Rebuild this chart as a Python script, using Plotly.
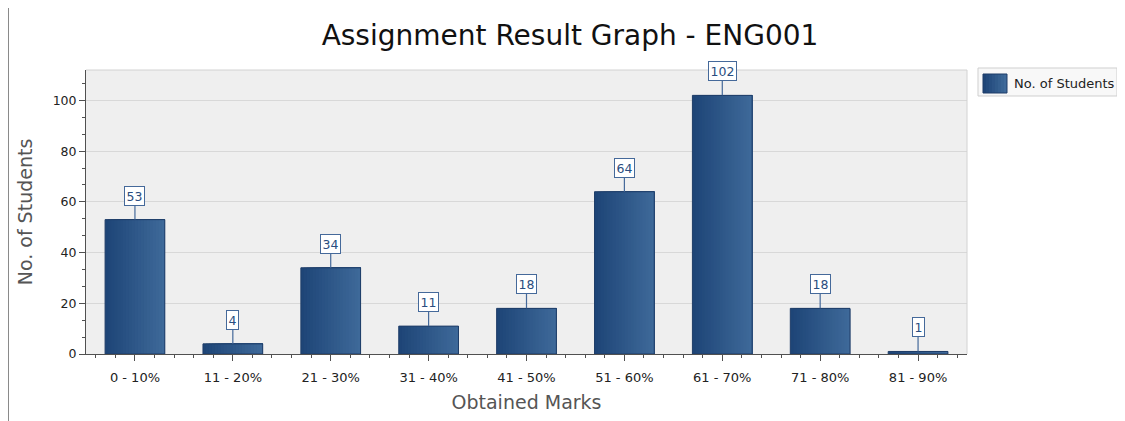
import plotly.graph_objects as go

categories = ["0 - 10%", "11 - 20%", "21 - 30%", "31 - 40%", "41 - 50%",
              "51 - 60%", "61 - 70%", "71 - 80%", "81 - 90%"]
students = [53, 4, 34, 11, 18, 64, 102, 18, 1]
series_name = "No. of Students"
title_text = "Assignment Result Graph - ENG001"

xpos = list(range(len(categories)))
BAR_W = 0.61
N_STRIPS = 20
c0 = (0x1e, 0x45, 0x77)
c1 = (0x3e, 0x69, 0x99)


def mix(t):
    return "rgb(%d,%d,%d)" % tuple(round(a + (b - a) * t) for a, b in zip(c0, c1))


fig = go.Figure()
# gradient fill: overlapping layers, each from its start to the right edge of the bar
for i in range(N_STRIPS):
    start = -BAR_W / 2 + i * BAR_W / N_STRIPS
    fig.add_trace(go.Bar(
        x=xpos, y=students, width=BAR_W / 2 - start,
        offset=start,
        marker=dict(color=mix(i / (N_STRIPS - 1)), line=dict(width=0)),
        showlegend=False, hoverinfo="skip",
    ))
# outline
fig.add_trace(go.Bar(
    x=xpos, y=students, name=series_name, width=BAR_W,
    marker=dict(color="rgba(0,0,0,0)", line=dict(color="#1f3d68", width=1)),
    showlegend=False,
))

for xp, v in zip(xpos, students):
    fig.add_annotation(
        x=xp, y=v, text=str(v), showarrow=True, arrowhead=0, arrowwidth=1.2,
        arrowcolor="#45699a", ax=0, ay=-24,
        font=dict(family="DejaVu Sans", size=12.5, color="#2a4d80"),
        bgcolor="white", bordercolor="#45699a", borderwidth=1, borderpad=1.5,
    )

PL, PR, PT, PB = 78, 959, 62, 346  # plot area in figure pixels
def px(x):
    return (x - PL) / (PR - PL)
def py(y):
    return (PB - y) / (PB - PT)

# left panel border line
fig.add_shape(type="line", xref="paper", yref="paper",
              x0=px(0.5), x1=px(0.5), y0=py(-10), y1=py(420),
              line=dict(color="#8a8a8a", width=1))
# light top/right frame
fig.add_shape(type="line", xref="paper", yref="paper", x0=0, x1=1, y0=1, y1=1,
              line=dict(color="#d2d2d2", width=1))
fig.add_shape(type="line", xref="paper", yref="paper", x0=1, x1=1, y0=0, y1=1,
              line=dict(color="#d2d2d2", width=1))

# custom legend
fig.add_shape(type="rect", xref="paper", yref="paper",
              x0=px(970), x1=px(1109), y0=py(88), y1=py(60),
              line=dict(color="#cfcfcf", width=1), fillcolor="#f8f8f8")
for i in range(8):
    fig.add_shape(type="rect", xref="paper", yref="paper",
                  x0=px(975 + i * 3), x1=px(999),
                  y0=py(85), y1=py(66),
                  line=dict(width=0), fillcolor=mix(i / 7))
fig.add_shape(type="rect", xref="paper", yref="paper",
              x0=px(975), x1=px(999), y0=py(85), y1=py(66),
              line=dict(color="#1f3d68", width=1))
fig.add_annotation(xref="paper", yref="paper", x=px(1004), y=py(75.5),
                   xanchor="left", yanchor="middle", showarrow=False,
                   text=series_name,
                   font=dict(family="DejaVu Sans", size=13, color="#222222"))

fig.update_layout(
    width=1117, height=413,
    margin=dict(l=PL, r=1117 - PR, t=PT, b=413 - PB),
    paper_bgcolor="white", plot_bgcolor="#efefef",
    title=dict(text=title_text, x=562 / 1117, xanchor="center",
               y=1 - 27 / 413, yanchor="middle",
               font=dict(family="DejaVu Sans", size=28, color="#111111")),
    font=dict(family="DejaVu Sans", size=12, color="#222222"),
    barmode="overlay", showlegend=False,
)
fig.update_xaxes(
    range=[-0.5, len(categories) - 0.5],
    tickvals=xpos, ticktext=categories,
    showline=True, linecolor="#505050", linewidth=1,
    ticks="outside", ticklen=6, tickcolor="#505050",
    ticklabelstandoff=5,
    minor=dict(ticks="outside", ticklen=3, tickcolor="#505050", dtick=0.2,
               tick0=-0.4, showgrid=False),
    showgrid=False, zeroline=False,
    title=dict(text="Obtained Marks",
               font=dict(family="DejaVu Sans", size=19, color="#555555"),
               standoff=12),
    tickfont=dict(family="DejaVu Sans", size=13, color="#222222"),
)
fig.update_yaxes(
    range=[0, 112], showline=True, linecolor="#505050", linewidth=1,
    ticks="outside", ticklen=6, tickcolor="#505050", dtick=20,
    minor=dict(ticks="outside", ticklen=3, tickcolor="#505050", dtick=20 / 3,
               showgrid=False),
    gridcolor="#d8d8d8", zeroline=False,
    title=dict(text="No. of Students",
               font=dict(family="DejaVu Sans", size=19, color="#555555"),
               standoff=14),
    tickfont=dict(family="DejaVu Sans", size=12.5, color="#222222"),
)

fig.write_html("out.html")
